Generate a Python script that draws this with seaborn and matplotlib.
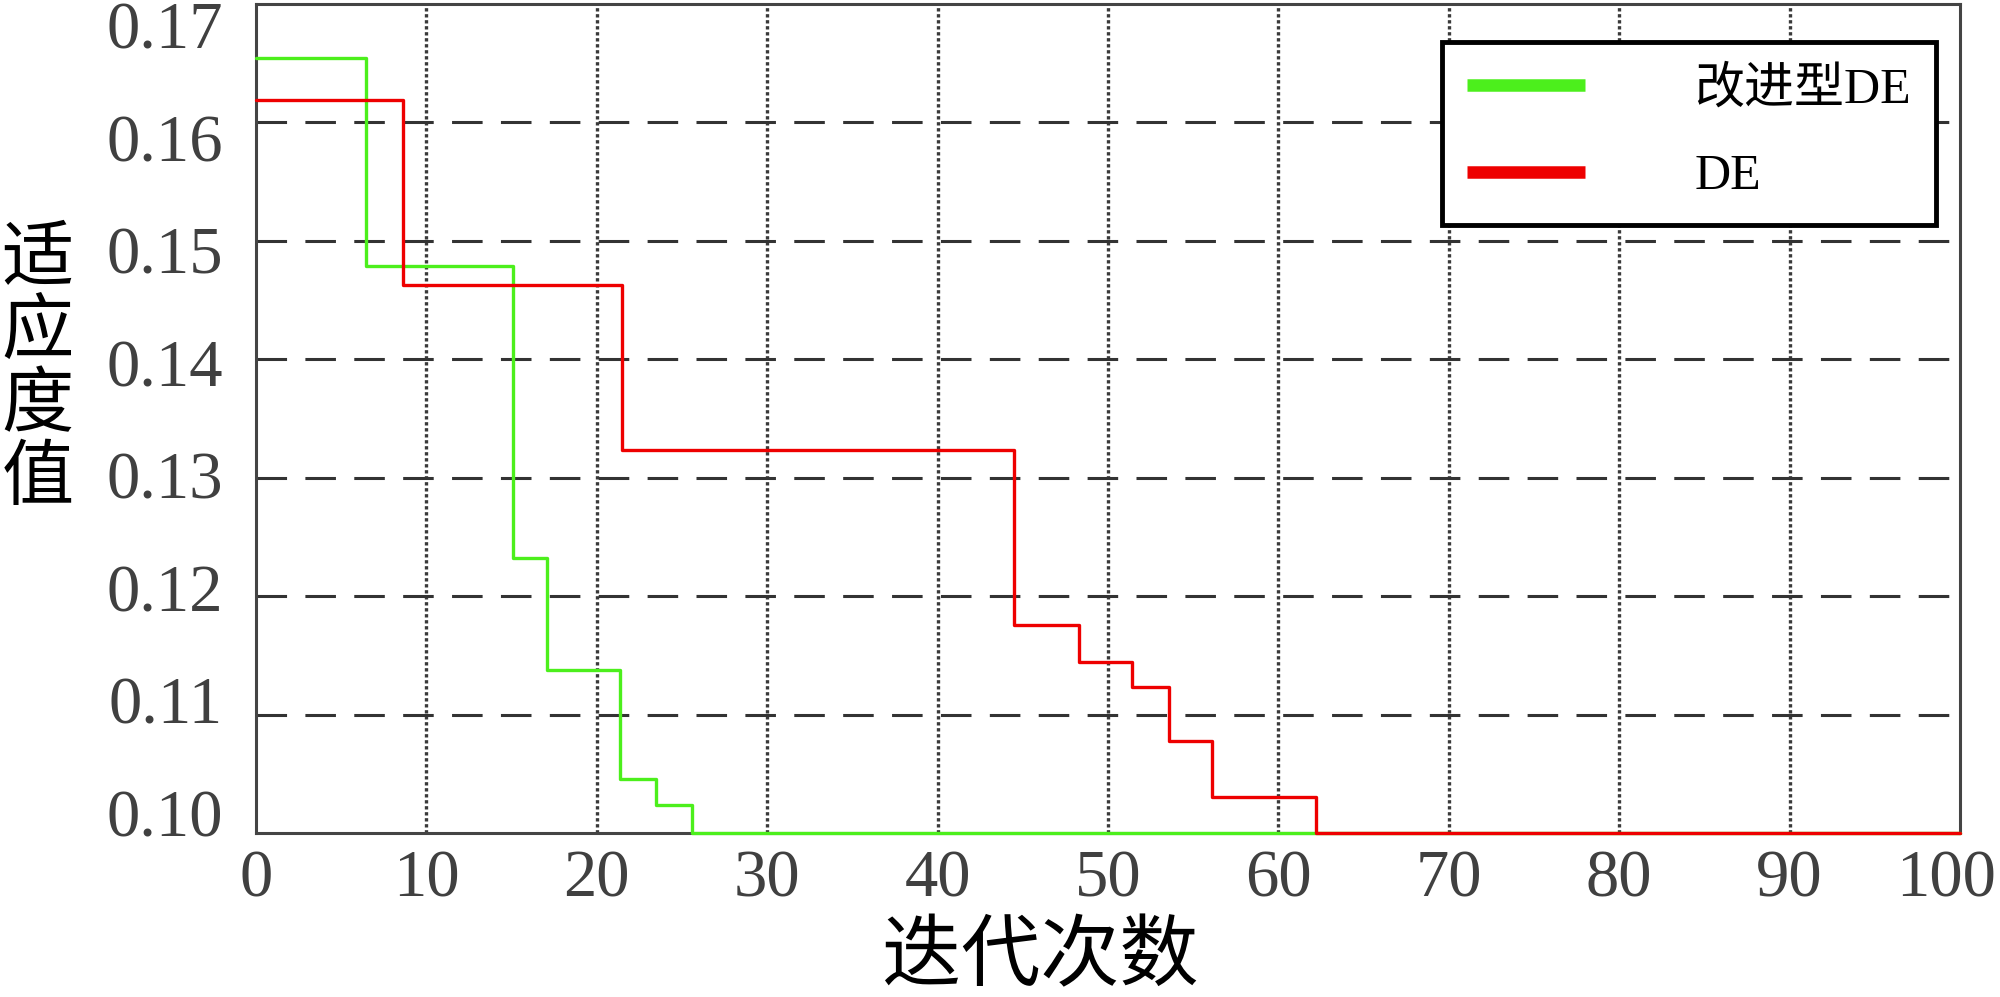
import numpy as np
import pandas as pd
import matplotlib
matplotlib.use("Agg")
import matplotlib.pyplot as plt
import matplotlib.transforms as mtransforms
import seaborn as sns

# ---- data ----
green_x = [0, 6.45, 15.1, 17.1, 21.35, 23.45, 25.6, 100]
green_y = [0.1654, 0.1479, 0.1232, 0.1138, 0.1046, 0.1024, 0.1000, 0.1000]
red_x = [0, 8.6, 21.5, 44.5, 48.3, 51.4, 53.6, 56.1, 62.2, 100]
red_y = [0.1619, 0.1463, 0.1323, 0.1176, 0.1144, 0.1123, 0.1078, 0.1030, 0.1000, 0.1000]
series_names = ["改进型DE", "DE"]
series_colors = ["#4cef1c", "#ee0000"]
x_ticks = [0, 10, 20, 30, 40, 50, 60, 70, 80, 90, 100]
y_ticks = [0.10, 0.11, 0.12, 0.13, 0.14, 0.15, 0.16, 0.17]
y_tick_labels = ["0.10", "0.11", "0.12", "0.13", "0.14", "0.15", "0.16", "0.17"]
x_label = "迭代次数"
y_label = "适应度值"

sns.set_theme(style="white")
plt.rcParams["font.family"] = ["Liberation Serif", "Noto Sans CJK SC", "DejaVu Sans"]

fig = plt.figure(figsize=(20, 9.97), dpi=100)
ax = fig.add_axes([0.128, 0.1645, 0.852, 0.8315])

df = pd.concat([
    pd.DataFrame({"x": green_x, "y": green_y, "s": series_names[0]}),
    pd.DataFrame({"x": red_x, "y": red_y, "s": series_names[1]}),
])
sns.lineplot(data=df, x="x", y="y", hue="s", palette=series_colors,
             drawstyle="steps-post", linewidth=2.4, ax=ax, estimator=None,
             sort=False, clip_on=False, zorder=5)

ax.set_xlim(0, 100)
ax.set_ylim(0.10, 0.17)

# grid lines
for xv in x_ticks[1:-1]:
    ax.axvline(xv, color="#3a3a3a", linestyle=(0, (1, 0.8)), linewidth=2.4, zorder=1)
for yv in y_ticks[1:-1]:
    ax.axhline(yv, color="#333333", linestyle=(0, (10, 6)), linewidth=2.2, zorder=1)

ax.set_xticks(x_ticks)
ax.set_xticklabels([str(v) for v in x_ticks])
ax.set_yticks(y_ticks)
ax.set_yticklabels([])
label_pos = [0.1017 + (v - 0.10) * 0.95 for v in y_ticks]
ax.set_yticks(label_pos, labels=y_tick_labels, minor=True)

ax.tick_params(axis="both", which="both", length=0, colors="#404040")
ax.tick_params(axis="x", labelsize=48, pad=12)
ax.tick_params(axis="y", which="minor", labelsize=48, pad=24)

# keep the last x label inside the figure
last = ax.get_xticklabels()[-1]
last.set_transform(last.get_transform() +
                   mtransforms.ScaledTranslation(-14 / 100, 0, fig.dpi_scale_trans))

for sp in ax.spines.values():
    sp.set_color("#444444")
    sp.set_linewidth(2.2)
    sp.set_visible(True)

ax.set_xlabel(x_label, fontsize=57, color="black", va="center",
              family=["Noto Sans CJK SC"])
ax.xaxis.set_label_coords(0.46, -0.150)
ax.set_ylabel("\n".join(y_label), fontsize=52, color="black", rotation=0,
              va="center", ha="center", linespacing=1.0,
              family=["Noto Sans CJK SC"])
ax.yaxis.set_label_coords(-0.128, 0.56)

leg = ax.legend(loc="upper right", bbox_to_anchor=(0.986, 0.954), borderaxespad=0,
                fontsize=36, frameon=True, fancybox=False, framealpha=1,
                edgecolor="black", handlelength=2.35, handletextpad=2.2,
                labelspacing=0.8, borderpad=0.5)
leg.get_frame().set_linewidth(3.5)
leg.set_zorder(10)
for ln in leg.get_lines():
    ln.set_linewidth(9)
    ln.set_solid_capstyle("butt")
for t in leg.get_texts():
    t.set_color("black")

fig.savefig("out.png", dpi=100, facecolor="white")
